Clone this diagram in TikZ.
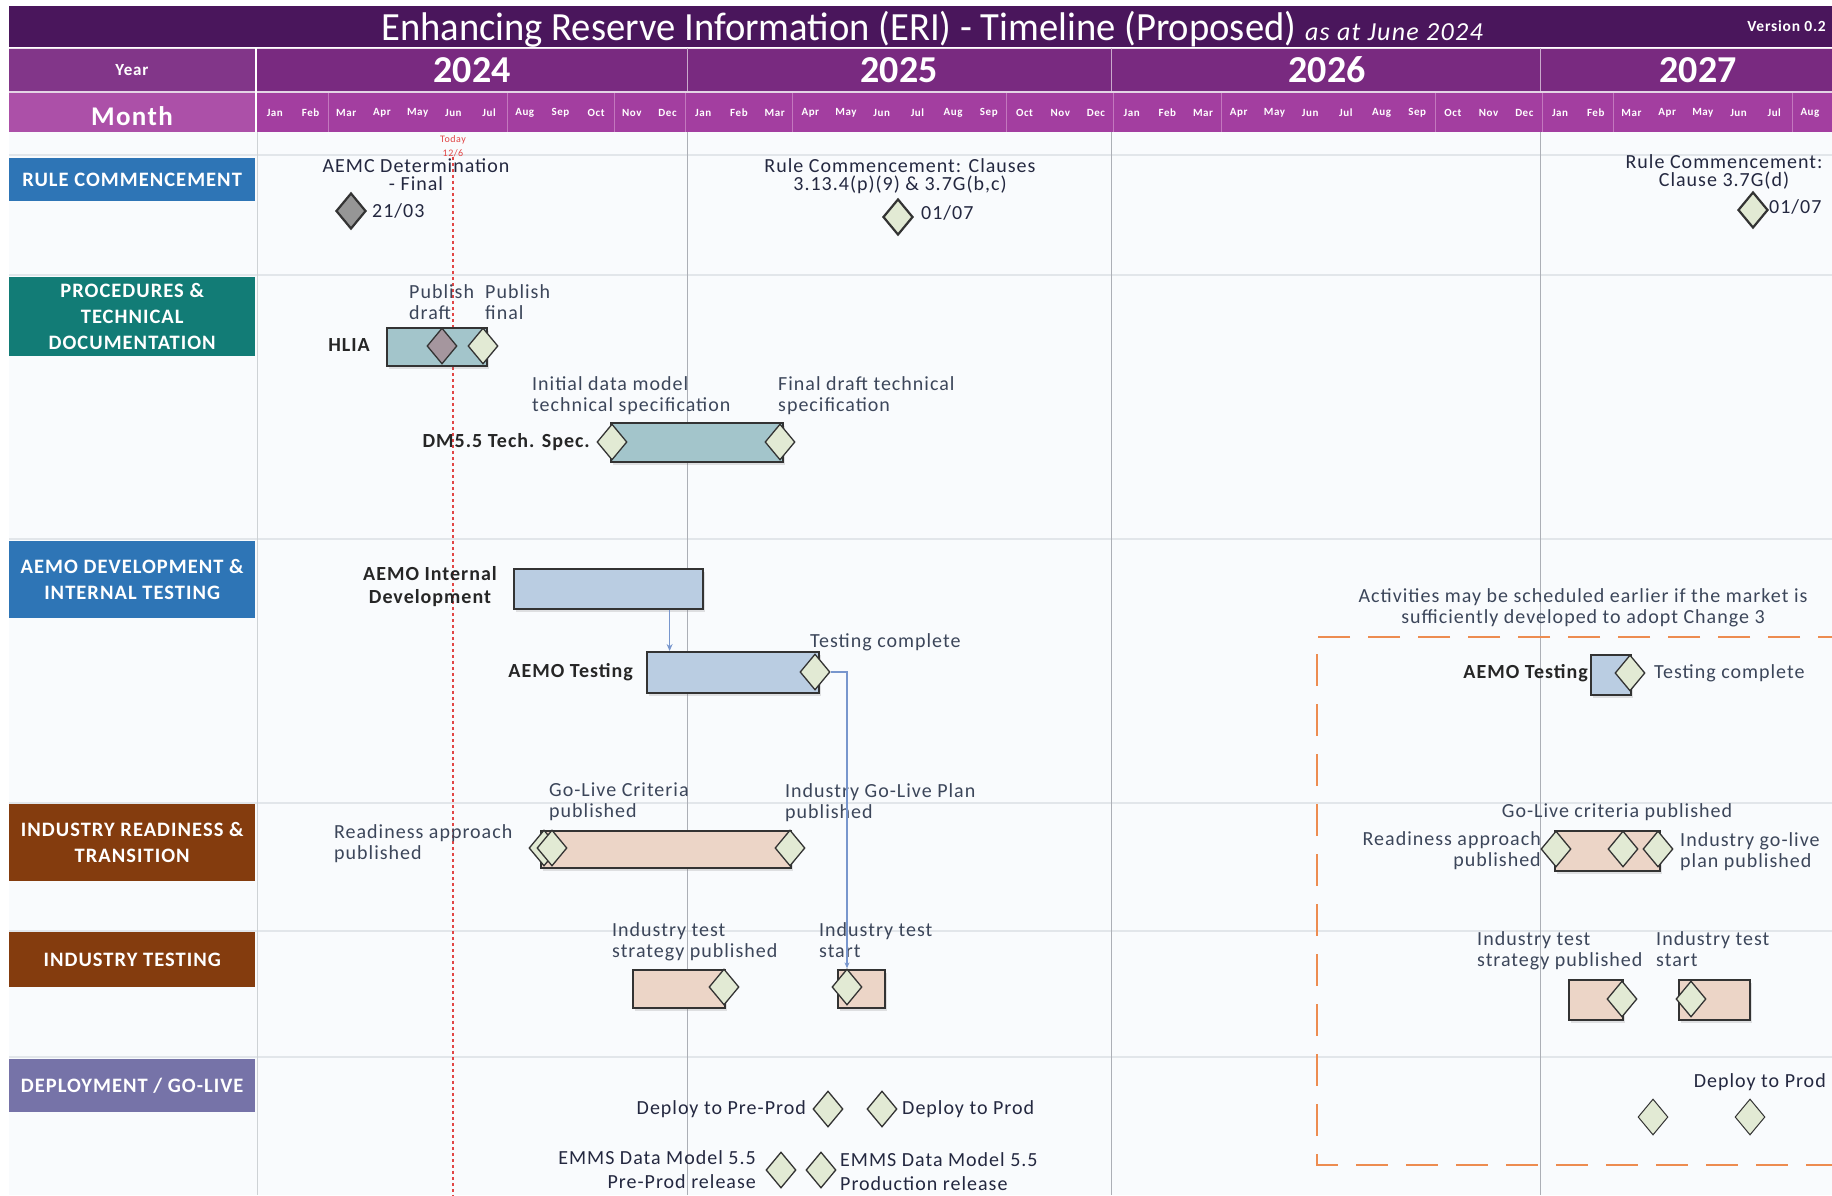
\documentclass[tikz,border=0pt]{standalone}
\usepackage{fontspec}
\setmainfont{Carlito}[FakeStretch=1.0, LetterSpace=5]
\newfontfamily\titlef{Carlito}[FakeStretch=0.965]
\newfontfamily\plainf{Carlito}[FakeStretch=1.0]
\usetikzlibrary{shapes.geometric,shadows,calc,arrows.meta}
\newcommand\myfs[2]{\fontsize{#1}{#2}\selectfont}
\definecolor{titlebg}{RGB}{74,22,92}
\definecolor{yearbg}{RGB}{121,42,128}
\definecolor{yearleft}{RGB}{130,54,137}
\definecolor{monthbg}{RGB}{163,62,160}
\definecolor{monthleft}{RGB}{172,80,168}
\definecolor{monthdiv}{RGB}{195,120,190}
\definecolor{blueL}{RGB}{46,117,182}
\definecolor{tealL}{RGB}{18,124,118}
\definecolor{brownL}{RGB}{132,60,14}
\definecolor{slateL}{RGB}{118,115,168}
\definecolor{txt}{RGB}{60,70,90}
\definecolor{txtdk}{RGB}{36,40,64}
\definecolor{bartl}{RGB}{163,197,203}
\definecolor{barbl}{RGB}{186,205,226}
\definecolor{barpk}{RGB}{236,213,199}
\definecolor{msg}{RGB}{226,234,212}
\definecolor{msgrey}{RGB}{150,150,150}
\definecolor{msmauve}{RGB}{165,150,158}
\definecolor{gridv}{RGB}{172,175,182}
\definecolor{gridh}{RGB}{226,230,234}
\definecolor{orangeD}{RGB}{237,140,80}
\definecolor{connc}{RGB}{120,150,205}
\definecolor{todayred}{RGB}{225,70,70}
\definecolor{bodybg}{RGB}{249,251,253}
\begin{document}
\begin{tikzpicture}[x=1pt,y=-1pt,
  catbox/.style={fill=#1, text=white, font=\myfs{20.5}{26}\bfseries, align=center,
    minimum width=246pt, inner sep=0pt, anchor=north west},
  ann/.style={text=txt, font=\myfs{20}{21}, inner sep=0pt, align=left},
  dk/.style={text=txtdk, font=\myfs{20}{24}, inner sep=0pt},
  bl/.style={text=black!85, font=\myfs{20}{23}\bfseries, inner sep=0pt},
  bar/.style={draw=black!80, line width=1.6pt, fill=#1, inner sep=0pt, anchor=north west,
    drop shadow={opacity=0.22, shadow xshift=2pt, shadow yshift=-3pt}},
  ms/.style={diamond, draw=black!80, line width=1.3pt, fill=#1, minimum width=30pt,
    minimum height=36pt, inner sep=0pt},
  mth/.style={text=white, font=\myfs{11}{12}\bfseries, inner sep=0pt},
  yr/.style={text=white, font=\plainf\myfs{38}{40}\bfseries, inner sep=0pt},
  conn/.style={draw=connc, line width=1.3pt}
]
\useasboundingbox (0,0) rectangle (1832,1195);
\clip (0,0) rectangle (1832,1195);
\fill[white] (0,0) rectangle (1832,1195);
% body background
\fill[bodybg] (9,132) rectangle (1832,1195);
% header
\fill[titlebg] (9,6) rectangle (1832,47);
\fill[yearleft] (9,48) rectangle (255,91);
\fill[yearbg] (257,48) rectangle (1832,91);
\fill[monthleft] (9,93) rectangle (255,132);
\fill[monthbg] (257,93) rectangle (1832,132);
\draw[white!80!yearbg, line width=1.2pt] (9,92) -- (1832,92);
\draw[white!85!yearbg, line width=1pt] (9,48) -- (1832,48);
\foreach \k in {687,1111,1540} \draw[white!60!yearbg, line width=1pt] (\k,48) -- (\k,91);
\foreach \k in {2,7,10,15,21,27,33,38,43} \draw[monthdiv, line width=0.6pt] ({257+\k*35.7},93) -- ({257+\k*35.7},132);
\foreach \k in {12,24,36} \draw[monthdiv, line width=0.8pt] ({257+\k*35.7},93) -- ({257+\k*35.7},132);
\draw[white, line width=1.5pt] (256,48) -- (256,132);

\node[text=white, font=\titlef\myfs{40}{42}, anchor=base west, inner sep=0pt] (title) at (381,40)
  {Enhancing Reserve Information (ERI) - Timeline (Proposed) {\rmfamily\myfs{26}{28}\itshape as at June 2024}};
\node[text=white, font=\myfs{15.5}{16}\bfseries, anchor=base east, inner sep=0pt] (ver) at (1826,31) {Version 0.2};
\node[text=white, font=\myfs{17}{18}\bfseries, inner sep=0pt] (yearL) at (132,70) {Year};
\node[text=white, font=\myfs{27}{28}\bfseries, inner sep=0pt] (monthL) at (132,116) {Month};
\node[yr] (y24) at (472,70) {2024};
\node[yr] (y25) at (899,70) {2025};
\node[yr] (y26) at (1327,70) {2026};
\node[yr] (y27) at (1698,70) {2027};
\foreach \m [count=\i from 0] in {Jan,Feb,Mar,Apr,May,Jun,Jul,Aug,Sep,Oct,Nov,Dec,Jan,Feb,Mar,Apr,May,Jun,Jul,Aug,Sep,Oct,Nov,Dec,Jan,Feb,Mar,Apr,May,Jun,Jul,Aug,Sep,Oct,Nov,Dec,Jan,Feb,Mar,Apr,May,Jun,Jul,Aug,Sep}
  \node[mth] (mo\i) at ({257+(\i+0.5)*35.7},113) {\m};

% grid
\foreach \yy in {155,275,539,803,931,1057} \draw[gridh, line width=2.5pt] (9,\yy) -- (1832,\yy);
\draw[gridh!80!gray, line width=1pt] (257,132) -- (257,1195);
\foreach \k in {687,1111,1540} \draw[gridv, line width=1pt] (\k,132) -- (\k,1195);

% today
\node[text=todayred, font=\myfs{10}{14}, align=center, inner sep=0pt] (today) at (453,146) {Today\\12/6};
\coordinate (todayEnd) at (453,1195);
\draw[todayred, dashed, line width=1.1pt] (today.south) -- (todayEnd);

% categories
\node[catbox=blueL, minimum height=43pt] (c1) at (9,158) {RULE COMMENCEMENT};
\node[catbox=tealL, minimum height=79pt] (c2) at (9,277) {PROCEDURES \&\\TECHNICAL\\DOCUMENTATION};
\node[catbox=blueL, minimum height=77pt] (c3) at (9,541) {AEMO DEVELOPMENT \&\\INTERNAL TESTING};
\node[catbox=brownL, minimum height=77pt] (c4) at (9,804) {INDUSTRY READINESS \&\\TRANSITION};
\node[catbox=brownL, minimum height=55pt] (c5) at (9,932) {INDUSTRY TESTING};
\node[catbox=slateL, minimum height=53pt] (c6) at (9,1059) {DEPLOYMENT / GO-LIVE};

% row 1
\node[dk, align=center, font=\myfs{20}{18}] (aemcT) at (416,175) {AEMC Determination\\- Final};
\node[ms=msgrey, line width=2.2pt] (m2103) at (351,211) {};
\node[dk, anchor=west] (d2103) at (372,211) {21/03};
\node[dk, align=center, font=\myfs{20}{18}] (rc1) at (900,176) {Rule Commencement: Clauses\\3.13.4(p)(9) \& 3.7G(b,c)};
\node[ms=msg, line width=2.2pt] (m0107a) at (898,217) {};
\node[dk, anchor=west] (d0107a) at (921,213) {01/07};
\node[dk, align=center, font=\myfs{20}{18}] (rc2) at (1724,172) {Rule Commencement:\\Clause 3.7G(d)};
\node[ms=msg, line width=2.2pt] (m0107b) at (1753,210) {};
\node[dk, anchor=west] (d0107b) at (1769,207) {01/07};

% row 2
\node[bl, anchor=east] (hliaL) at (370,345) {HLIA};
\node[bar=bartl, minimum width=100pt, minimum height=38pt] (hlia) at (386,327) {};
\node[ms=msmauve] (mpd) at (442,346) {};
\node[ms=msg] (mpf) at (483,346) {};
\node[ann, anchor=north west] (tpd) at (409,284) {Publish\\draft};
\node[ann, anchor=north west] (tpf) at (485,284) {Publish\\final};
\node[bl, anchor=east] (dmL) at (590,442) {DM5.5 Tech. Spec.};
\node[bar=bartl, minimum width=172pt, minimum height=39pt] (dm) at (610,422) {};
\node[ms=msg] (mdm1) at (612,442) {};
\node[ms=msg] (mdm2) at (780,442) {};
\node[ann, anchor=north west] (tdm1) at (532,376) {Initial data model\\technical specification};
\node[ann, anchor=north west] (tdm2) at (778,376) {Final draft technical\\specification};

% row 3
\node[bl, align=center] (devL) at (430,587) {AEMO Internal\\Development};
\node[bar=barbl, minimum width=189pt, minimum height=40pt] (dev) at (513,568) {};
\node[bl, anchor=east] (tstL) at (633,672) {AEMO Testing};
\node[bar=barbl, minimum width=172pt, minimum height=41pt] (tst) at (646,651) {};
\node[ms=msg] (mtc) at (815,672) {};
\node[ann, anchor=base west] (ttc) at (810,647) {Testing complete};
\draw[conn, -{Stealth[length=7pt,width=6pt]}] ($(dev.south east)+(-34,0)$) coordinate (aS) -- (aS |- tst.north);

% row 4
\node[ann, anchor=north west] (tra) at (334,824) {Readiness approach\\published};
\node[bar=barpk, minimum width=250pt, minimum height=37pt] (ir) at (540,830) {};
\node[ms=msg] (mra) at (544,848) {};
\node[ms=msg] (mgl) at (552,848) {};
\node[ms=msg] (mip) at (790,848) {};
\node[ann, anchor=north west] (tgl) at (549,783) {Go-Live Criteria\\published};
\node[ann, anchor=north west] (tip) at (785,783) {Industry Go-Live Plan\\published};

% row 5
\node[ann, anchor=north west] (tts) at (612,922) {Industry test\\strategy published};
\node[bar=barpk, minimum width=92pt, minimum height=38pt] (its1) at (632,969) {};
\node[ms=msg] (mts) at (724,987) {};
\node[ann, anchor=north west] (tstart) at (819,922) {Industry test\\start};
\node[bar=barpk, minimum width=47pt, minimum height=38pt] (its2) at (837,969) {};
\node[ms=msg] (mits) at (847,987) {};
\draw[conn, -{Stealth[length=6pt,width=5pt]}] (mtc.east) -| (mits.north);

% row 6
\node[dk, anchor=east] (tdpp) at (806,1109) {Deploy to Pre-Prod};
\node[ms=msg] (mdpp) at (828,1109) {};
\node[ms=msg] (mdp) at (882,1109) {};
\node[dk, anchor=west] (tdp) at (902,1109) {Deploy to Prod};
\node[dk, align=right, anchor=east] (temp1) at (756,1170) {EMMS Data Model 5.5\\Pre-Prod release};
\node[ms=msg] (me1) at (781,1170) {};
\node[ms=msg] (me2) at (821,1170) {};
\node[dk, align=left, anchor=west] (temp2) at (840,1172) {EMMS Data Model 5.5\\Production release};

% right dashed region
\draw[orangeD, line width=2pt, dash pattern=on 32pt off 18pt] (1900,637) -- (1317,637) -- (1317,1165) -- (1900,1165);
\node[ann, align=center] (tact) at (1583,608) {Activities may be scheduled earlier if the market is\\sufficiently developed to adopt Change 3};
\node[bl, anchor=east] (tstL2) at (1588,673) {AEMO Testing};
\node[bar=barbl, minimum width=40pt, minimum height=40pt] (tstb) at (1590,654) {};
\node[ms=msg] (mtc2) at (1630,673) {};
\node[ann, anchor=west] (ttc2) at (1654,673) {Testing complete};

\node[ann, anchor=base] (tgl2) at (1617,817) {Go-Live criteria published};
\node[ann, align=right, anchor=east] (tra2) at (1541,851) {Readiness approach\\published};
\node[bar=barpk, minimum width=105pt, minimum height=40pt] (ir2) at (1554,830) {};
\node[ms=msg] (mra2) at (1556,849) {};
\node[ms=msg] (mgl2) at (1623,849) {};
\node[ms=msg] (mip2) at (1658,849) {};
\node[ann, align=left, anchor=west] (tip2) at (1680,852) {Industry go-live\\plan published};

\node[ann, anchor=north west] (tts2) at (1477,931) {Industry test\\strategy published};
\node[bar=barpk, minimum width=54pt, minimum height=40pt] (its1b) at (1568,979) {};
\node[ms=msg] (mts2) at (1622,999) {};
\node[ann, anchor=north west] (tstart2) at (1656,931) {Industry test\\start};
\node[bar=barpk, minimum width=71pt, minimum height=40pt] (its2b) at (1678,979) {};
\node[ms=msg] (mits2) at (1691,999) {};

\node[dk, anchor=east] (tdp2) at (1826,1082) {Deploy to Prod};
\node[ms=msg, line width=1pt] (md1) at (1653,1117) {};
\node[ms=msg, line width=1pt] (md2) at (1750,1117) {};
\end{tikzpicture}
\end{document}
